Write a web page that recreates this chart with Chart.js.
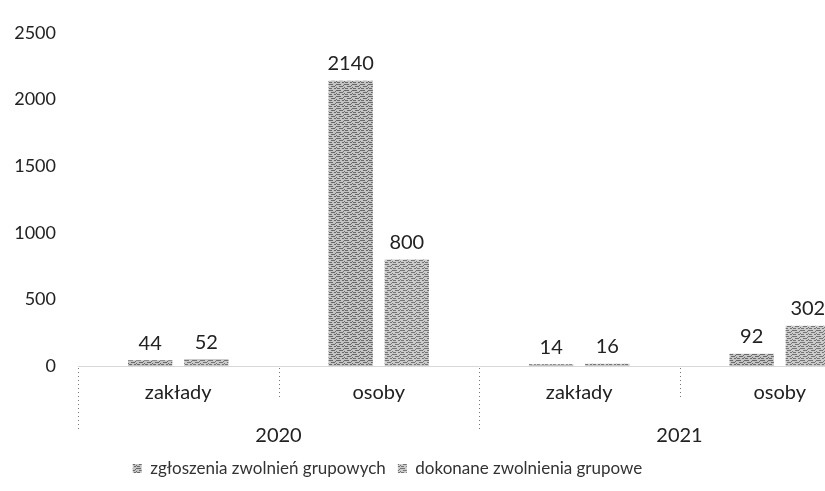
<!DOCTYPE html>
<html>
<head>
<meta charset="utf-8">
<script src="https://cdn.jsdelivr.net/npm/chart.js@4"></script>
<style>
  html, body { margin: 0; padding: 0; background: #fff; overflow: hidden; }
  #wrap { width: 825px; height: 491px; overflow: hidden; }
</style>
</head>
<body>
<div id="wrap"><canvas id="chart" width="880" height="491"></canvas></div>
<script>
// dane
const categories = ['zakłady', 'osoby', 'zakłady', 'osoby'];
const years = ['2020', '2021'];
const zgloszenia = [44, 2140, 14, 92];
const dokonane = [52, 800, 16, 302];
const seriesNames = ['zgłoszenia zwolnień grupowych', 'dokonane zwolnienia grupowe'];
const yTicks = [0, 500, 1000, 1500, 2000, 2500];

const FONT = 'Lato, "Open Sans", sans-serif';

// szara tekstura jak na skanie
function makePattern(base, dark) {
    const c = document.createElement('canvas');
    c.width = 8; c.height = 6;
    const g = c.getContext('2d');
    g.fillStyle = base;
    g.fillRect(0, 0, 8, 6);
    g.fillStyle = dark;
    g.fillRect(0, 0, 5, 1);
    g.fillRect(3, 2, 4, 1);
    g.fillRect(1, 4, 3, 1);
    g.fillRect(6, 4, 2, 1);
    g.fillRect(7, 1, 1, 1);
    g.fillRect(0, 3, 1, 1);
    return g.createPattern(c, 'repeat');
}
const ctx = document.getElementById('chart').getContext('2d');
const fill1 = makePattern('#c4c4c4', '#6a6a6a');
const fill2 = makePattern('#cbcbcb', '#757575');

// etykiety wartości nad słupkami
const valueLabels = {
    id: 'valueLabels',
    afterDatasetsDraw(chart) {
        const c = chart.ctx;
        c.save();
        c.font = '20px ' + FONT;
        c.fillStyle = '#222';
        c.textAlign = 'center';
        c.textBaseline = 'bottom';
        chart.data.datasets.forEach((ds, i) => {
            chart.getDatasetMeta(i).data.forEach((bar, j) => {
                c.fillText(String(ds.data[j]), bar.x, bar.y - 7);
            });
        });
        c.restore();
    }
};

// kropkowane separatory grup pod osią X
const separators = {
    id: 'separators',
    afterDraw(chart) {
        const sx = chart.scales.x;
        const y0 = chart.chartArea.bottom;
        const step = sx.getPixelForValue(1) - sx.getPixelForValue(0);
        const c = chart.ctx;
        c.save();
        c.strokeStyle = '#777';
        c.lineWidth = 1;
        c.setLineDash([1, 3]);
        for (let i = 0; i < categories.length; i++) {
            const x = Math.round(sx.getPixelForValue(i) - step / 2) + 0.5;
            const len = i % 2 === 0 ? 65 : 32;
            c.beginPath();
            c.moveTo(x, y0 + 2);
            c.lineTo(x, y0 + len);
            c.stroke();
        }
        c.restore();
    }
};

// przesunięcie legendy (wykres wychodzi poza prawą krawędź)
const legendShift = {
    id: 'legendShift',
    afterLayout(chart) {
        chart.legend.left -= 59;
        chart.legend.right -= 59;
    }
};

new Chart(ctx, {
    type: 'bar',
    data: {
        labels: categories,
        datasets: [
            { label: seriesNames[0], data: zgloszenia, backgroundColor: fill1, xAxisID: 'x' },
            { label: seriesNames[1], data: dokonane, backgroundColor: fill2, xAxisID: 'x' }
        ]
    },
    options: {
        responsive: false,
        animation: false,
        layout: { padding: { left: 13, top: 32, right: 0, bottom: 4 } },
        categoryPercentage: 0.56,
        barPercentage: 0.79,
        scales: {
            y: {
                min: 0, max: 2500,
                afterBuildTicks: s => { s.ticks = yTicks.map(v => ({ value: v })); },
                afterFit: s => { s.width = 65; },
                grid: { display: false, drawTicks: false },
                border: { display: false },
                ticks: {
                    padding: 22, color: '#222', font: { family: FONT, size: 18 },
                    callback: v => String(v)
                }
            },
            x: {
                weight: 0,
                afterFit: s => { s.height = 43; },
                grid: { display: false, drawTicks: false },
                border: { display: true, color: '#d8d8d8', dash: [1, 9] },
                ticks: { padding: 15, color: '#222', font: { family: FONT, size: 20 } }
            },
            x2: {
                type: 'category',
                labels: years,
                position: 'bottom',
                weight: 1,
                offset: true,
                afterFit: s => { s.height = 39; },
                grid: { display: false, drawTicks: false },
                border: { display: false },
                ticks: { padding: 15, color: '#222', font: { family: FONT, size: 20 } }
            }
        },
        plugins: {
            legend: {
                position: 'bottom',
                labels: {
                    boxWidth: 9, boxHeight: 9, padding: 12,
                    color: '#333', font: { family: FONT, size: 17 }
                }
            },
            tooltip: { enabled: false }
        }
    },
    plugins: [valueLabels, separators, legendShift]
});
</script>
</body>
</html>
